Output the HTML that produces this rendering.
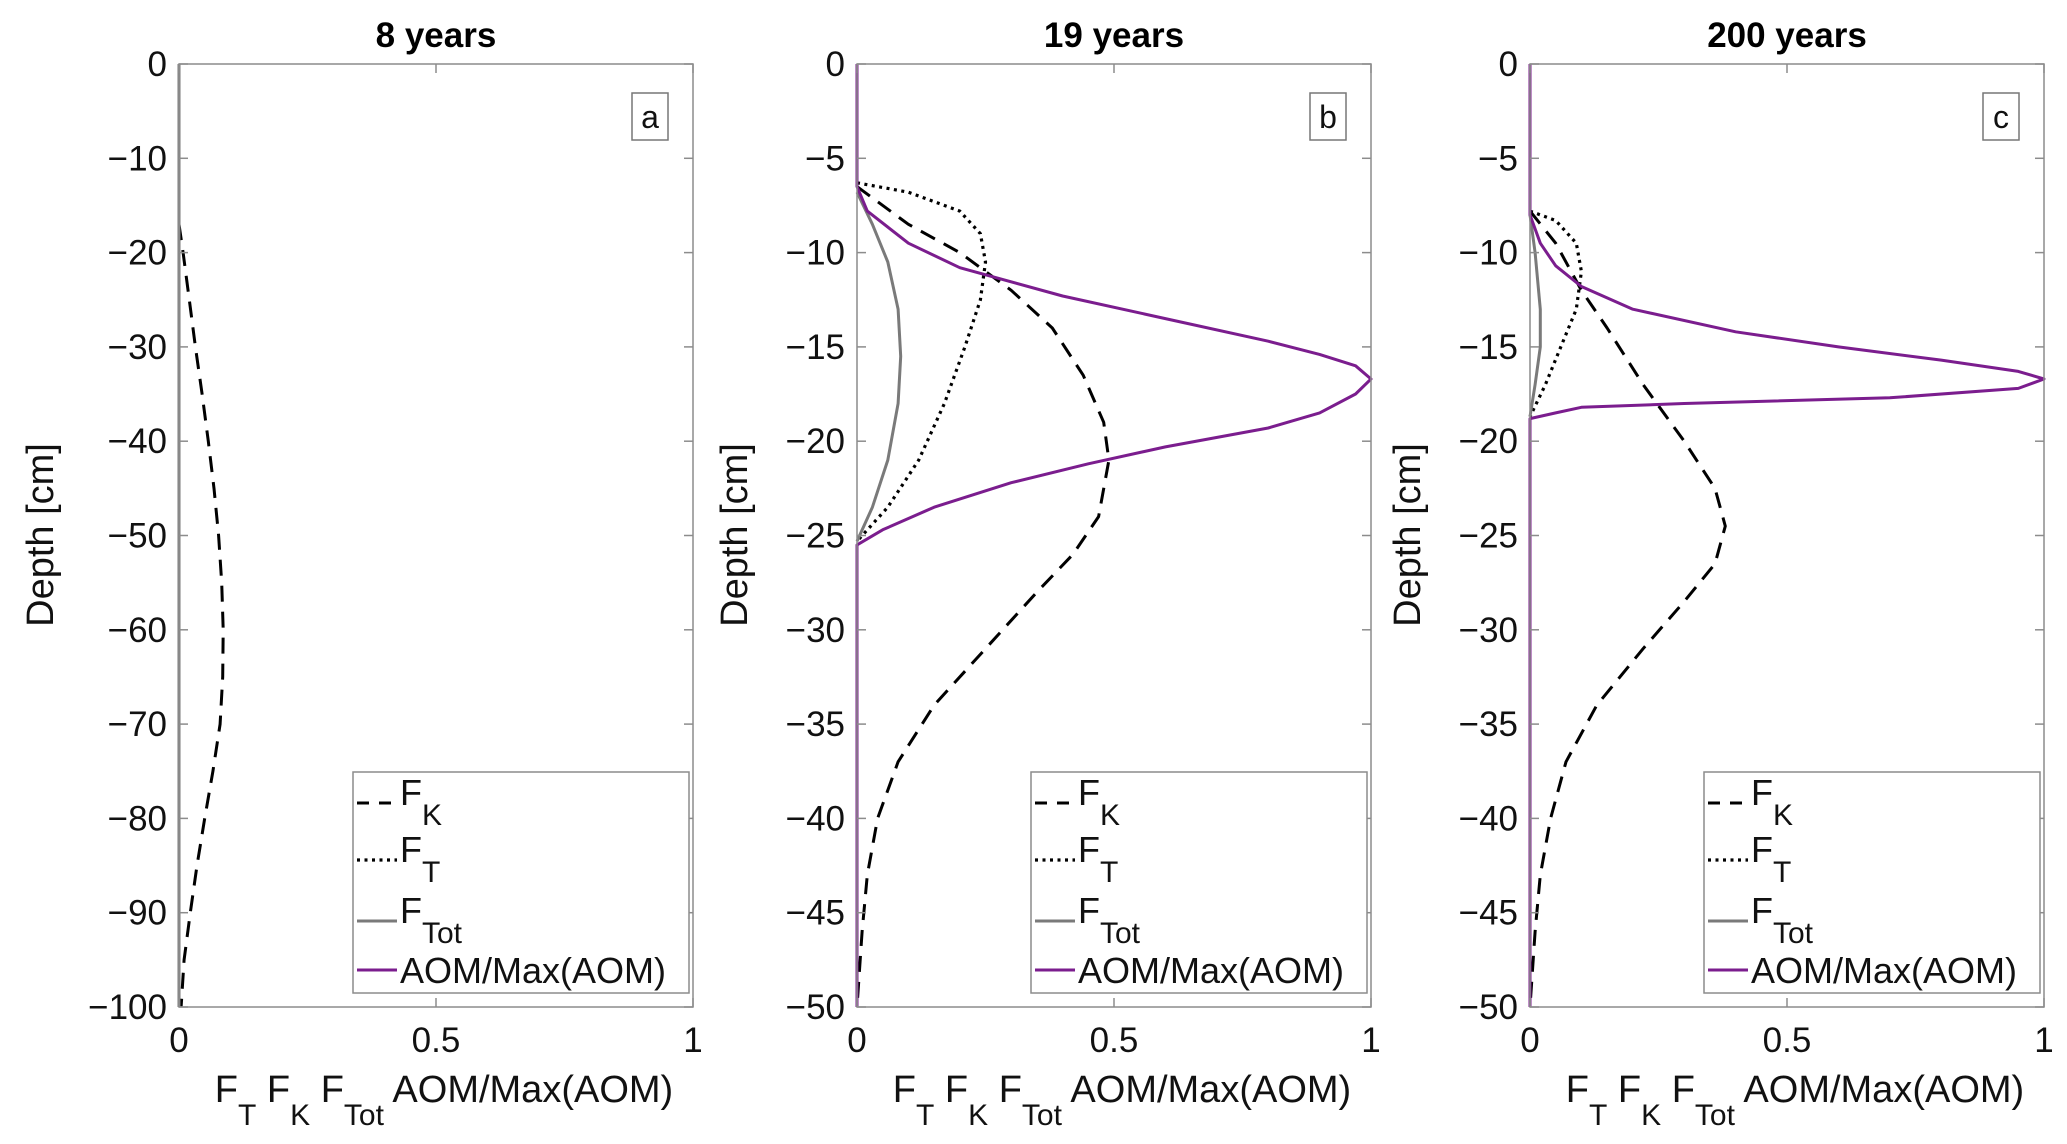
<!DOCTYPE html>
<html><head><meta charset="utf-8"><style>
html,body{margin:0;padding:0;background:#fff}
svg{display:block;font-family:"Liberation Sans",sans-serif}
</style></head><body>
<svg id="chart" width="2067" height="1144" viewBox="0 0 2067 1144" xmlns="http://www.w3.org/2000/svg"></svg>
<script>
// Panel a (8 years)
const aFkDepth = [-17,-20,-25,-30,-35,-40,-45,-50,-55,-60,-65,-70,-75,-80,-85,-90,-95,-100];
const aFkVal   = [0,0.008,0.02,0.032,0.045,0.057,0.068,0.077,0.083,0.086,0.085,0.08,0.066,0.05,0.035,0.022,0.01,0.004];
const aFtotDepth = [0,-100];
const aFtotVal   = [0,0];
const aAomDepth = [0,-100];
const aAomVal   = [0,0];
// Panel b (19 years)
const bAomDepth = [0,-6.5,-7.8,-9.5,-10.8,-12.3,-13.5,-14.7,-15.4,-16,-16.7,-17.5,-18.5,-19.3,-20.3,-21.2,-22.2,-23.5,-24.7,-25.5,-50];
const bAomVal   = [0,0,0.02,0.1,0.2,0.4,0.6,0.8,0.9,0.97,1,0.97,0.9,0.8,0.6,0.45,0.3,0.15,0.05,0,0];
const bFkDepth = [-6.5,-8.5,-10,-12,-14,-16.5,-19,-21,-24,-26,-28,-31,-34,-37,-40,-43,-46,-50];
const bFkVal   = [0,0.1,0.2,0.3,0.38,0.44,0.48,0.49,0.47,0.42,0.35,0.25,0.15,0.08,0.04,0.02,0.01,0];
const bFtDepth = [-6.3,-6.8,-7.8,-9,-10.5,-12.5,-15,-18,-21,-23.5,-25.3];
const bFtVal   = [0,0.1,0.2,0.24,0.25,0.24,0.21,0.17,0.12,0.06,0];
const bFtotDepth = [-6.8,-8.5,-10.5,-13,-15.5,-18,-21,-23.5,-25.3];
const bFtotVal   = [0,0.03,0.06,0.08,0.085,0.08,0.06,0.03,0];
// Panel c (200 years)
const cAomDepth = [0,-8,-9.5,-10.7,-11.8,-13,-14.2,-15,-15.7,-16.3,-16.7,-17.2,-17.7,-18,-18.2,-18.5,-18.8,-50];
const cAomVal   = [0,0,0.02,0.05,0.1,0.2,0.4,0.6,0.8,0.95,1,0.95,0.7,0.3,0.1,0.05,0,0];
const cFkDepth = [-7.8,-9.5,-12,-14,-17,-20,-22.5,-24.5,-26.5,-28.5,-31,-34,-37,-40,-43,-46,-50];
const cFkVal   = [0,0.05,0.1,0.15,0.22,0.3,0.36,0.38,0.36,0.3,0.22,0.13,0.07,0.04,0.02,0.01,0];
const cFtDepth = [-7.8,-8.3,-9.5,-11,-13,-15,-17,-18.7];
const cFtVal   = [0,0.05,0.09,0.1,0.09,0.06,0.03,0];
const cFtotDepth = [-8,-10,-13,-15,-17,-18.7];
const cFtotVal   = [0,0.01,0.02,0.02,0.01,0];
// Ticks
const xTicks = [0,0.5,1];
const xTickLabels = ["0","0.5","1"];
const aYTicks = [0,-10,-20,-30,-40,-50,-60,-70,-80,-90,-100];
const bcYTicks = [0,-5,-10,-15,-20,-25,-30,-35,-40,-45,-50];
const titles = ["8 years","19 years","200 years"];
const panelLetters = ["a","b","c"];

const NS="http://www.w3.org/2000/svg";
const svg=document.getElementById('chart');
function mk(tag,attrs,parent){const e=document.createElementNS(NS,tag);for(const k in attrs)e.setAttribute(k,attrs[k]);(parent||svg).appendChild(e);return e;}

const panels=[
 {L:179,ymin:-100,yt:aYTicks,series:[[aAomVal,aAomDepth,'p'],[aFkVal,aFkDepth,'k'],[aFtotVal,aFtotDepth,'g']]},
 {L:857,ymin:-50,yt:bcYTicks,series:[[bFkVal,bFkDepth,'k'],[bFtVal,bFtDepth,'t'],[bFtotVal,bFtotDepth,'g'],[bAomVal,bAomDepth,'p']]},
 {L:1530,ymin:-50,yt:bcYTicks,series:[[cFkVal,cFkDepth,'k'],[cFtVal,cFtDepth,'t'],[cFtotVal,cFtotDepth,'g'],[cAomVal,cAomDepth,'p']]}
];
const W=514,T=64,B=1007;
const styles={
 k:{stroke:'#000','stroke-width':3,'stroke-dasharray':'16 10',name:'fk-line'},
 t:{stroke:'#000','stroke-width':3.2,'stroke-dasharray':'3 4.5',name:'ft-line'},
 g:{stroke:'#7a7a7a','stroke-width':3,name:'ftot-line'},
 p:{stroke:'#7b1d8e','stroke-width':3,name:'aom-line'}
};
panels.forEach((p,i)=>{
 const g=mk('g',{});
 
 
 const xs=v=>p.L+v*W;
 const ys=d=>T+(d/p.ymin)*(B-T);
 p.series.forEach(s=>{
  const st=styles[s[2]];
  const pts=s[0].map((v,j)=>xs(v).toFixed(1)+','+ys(s[1][j]).toFixed(1)).join(' ');
  const a={points:pts,fill:'none',stroke:st.stroke,'stroke-width':st['stroke-width'],'stroke-linejoin':'round'};
  if(st['stroke-dasharray'])a['stroke-dasharray']=st['stroke-dasharray'];
  const pl=mk('polyline',a,g);
  
  
 });
 const box=mk('rect',{x:p.L,y:T,width:W,height:B-T,fill:'none',stroke:'#8c8c8c','stroke-width':1.5},g);
 
 
 xTicks.forEach((v,j)=>{
  mk('line',{x1:xs(v),x2:xs(v),y1:B,y2:B-9,stroke:'#8c8c8c','stroke-width':1.5},g);
  mk('line',{x1:xs(v),x2:xs(v),y1:T,y2:T+9,stroke:'#8c8c8c','stroke-width':1.5},g);
  const t=mk('text',{x:xs(v),y:1052,'font-size':35,'text-anchor':'middle',fill:'#111'},g);
  t.textContent=xTickLabels[j];
  
  
 });
 p.yt.forEach(v=>{
  mk('line',{x1:p.L,x2:p.L+9,y1:ys(v),y2:ys(v),stroke:'#8c8c8c','stroke-width':1.5},g);
  mk('line',{x1:p.L+W,x2:p.L+W-9,y1:ys(v),y2:ys(v),stroke:'#8c8c8c','stroke-width':1.5},g);
  const t=mk('text',{x:p.L-12,y:ys(v)+12,'font-size':35,'text-anchor':'end',fill:'#111'},g);
  t.textContent=(v<0?'\u2212':'')+Math.abs(v);
  
  
 });
 const tt=mk('text',{x:p.L+W/2,y:47,'font-size':35,'font-weight':'bold','text-anchor':'middle',fill:'#000'},g);
 tt.textContent=titles[i];
 
 
 const yl=mk('text',{x:0,y:0,'font-size':38,'text-anchor':'middle',fill:'#111',transform:`translate(${p.L-(i==0?126:110)},535) rotate(-90)`},g);
 yl.textContent='Depth [cm]';
 
 
 const xl=mk('text',{x:p.L+W/2+8,y:1102,'font-size':38,'text-anchor':'middle',fill:'#111'},g);
 xl.innerHTML='F<tspan dy="23" font-size="30">T</tspan><tspan dy="-23"> F</tspan><tspan dy="23" font-size="30">K</tspan><tspan dy="-23"> F</tspan><tspan dy="23" font-size="30">Tot</tspan><tspan dy="-23"> AOM/Max(AOM)</tspan>';
 
 
 const lb=mk('rect',{x:p.L+W-61,y:93,width:36,height:47,fill:'#fff',stroke:'#777','stroke-width':1.5},g);
 
 
 const lt=mk('text',{x:p.L+W-43,y:128,'font-size':32,'text-anchor':'middle',fill:'#111'},g);
 lt.textContent=panelLetters[i];
 
 
 const lg=mk('g',{},g);
 
 
 const lx=p.L+W-340, ly=772;
 mk('rect',{x:lx,y:ly,width:336,height:221,fill:'#fff',stroke:'#8c8c8c','stroke-width':1.5},lg);
 const entries=[['k',803,'F','K'],['t',860,'F','T'],['g',921,'F','Tot'],['p',970,'AOM/Max(AOM)','']];
 entries.forEach(e=>{
  const st=styles[e[0]];
  const a={x1:lx+4,x2:lx+44,y1:e[1],y2:e[1],stroke:st.stroke,'stroke-width':st['stroke-width']};
  if(st['stroke-dasharray'])a['stroke-dasharray']=e[0]=='k'?'12 10':st['stroke-dasharray'];
  mk('line',a,lg);
  const t=mk('text',{x:lx+47,y:e[0]=='p'?e[1]+13:e[1]+2,'font-size':36,fill:'#111'},lg);
  if(e[3]) t.innerHTML=e[2]+'<tspan dy="20" font-size="30">'+e[3]+'</tspan>';
  else t.textContent=e[2];
  
  
 });
});
</script>
</body></html>
